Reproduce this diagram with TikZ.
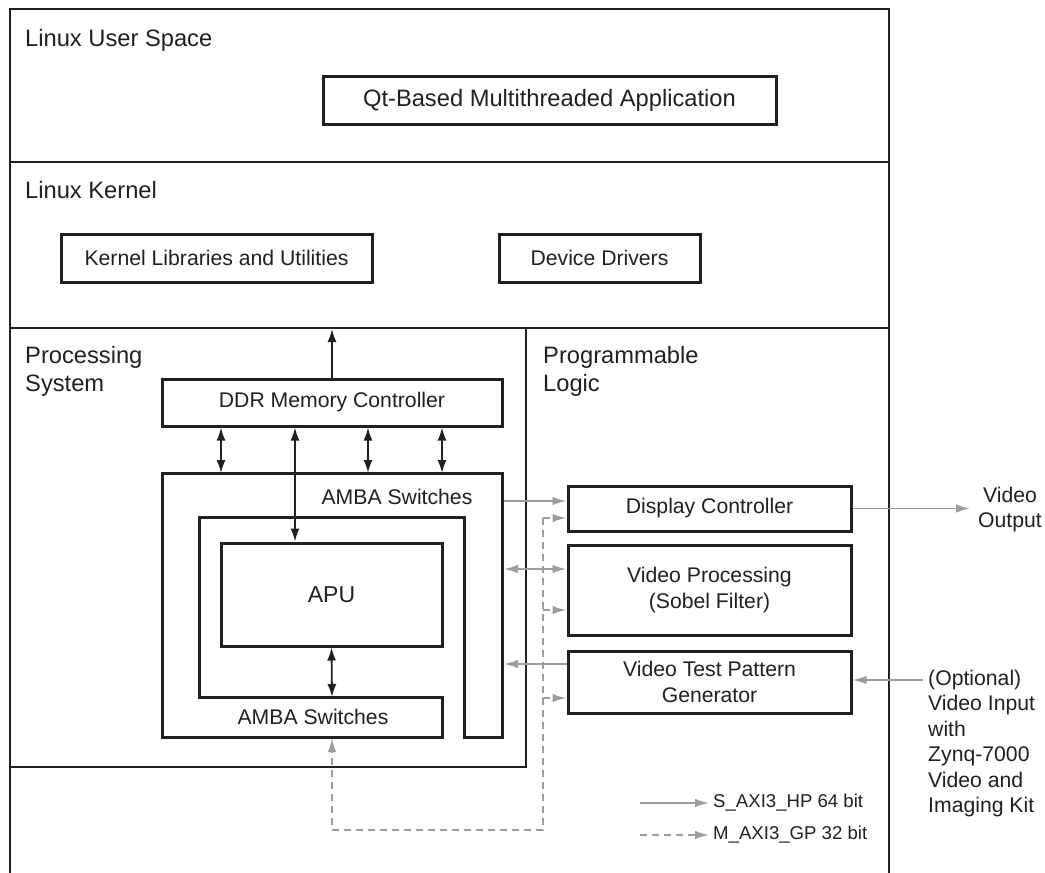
\documentclass[tikz,border=0pt]{standalone}
\usepackage{fontspec}
\setmainfont{Liberation Sans}
\usetikzlibrary{arrows.meta}
\definecolor{ink}{HTML}{231F20}
\definecolor{wire}{HTML}{9B9C9E}
\newcommand{\secfont}{\fontsize{23.7}{28}\selectfont}
\newcommand{\boxfont}{\fontsize{21.2}{25.4}\selectfont}
\newcommand{\keyfont}{\fontsize{18.6}{22}\selectfont}

\begin{document}
\begin{tikzpicture}[x=1pt, y=-1pt,
    rule/.style={draw=ink, line width=2.3pt},
    blk/.style={draw=ink, line width=3pt, text=ink, font=\boxfont, inner sep=0pt, align=center},
    lbl/.style={text=ink, font=\secfont, inner sep=0pt, align=left},
    txt/.style={text=ink, font=\boxfont, inner sep=0pt},
    link/.style={ink, line width=1.8pt, -{Latex[length=13pt,width=9pt]}},
    dlink/.style={ink, line width=1.8pt, {Latex[length=13pt,width=9pt]}-{Latex[length=13pt,width=9pt]}},
    hp/.style={wire, line width=1.8pt, -{Latex[length=14pt,width=8.5pt]}},
    hpd/.style={wire, line width=1.8pt, {Latex[length=14pt,width=8.5pt]}-{Latex[length=14pt,width=8.5pt]}},
    gp/.style={hp, dash pattern=on 7pt off 5pt}]
    \useasboundingbox (0,0) rectangle (1045,873);

    % 绘制外框和分区线
    \draw[rule] (10,873) -- (10,9) -- (889,9) -- (889,873);
    \draw[rule] (10,162) -- (889,162);
    \draw[rule] (10,328) -- (889,328);
    \draw[rule] (526,328) -- (526,767) -- (10,767);

    % 分区标题
    \node[lbl, anchor=base west] (usr) at (25,46) {Linux User Space};
    \node[lbl, anchor=base west] (krn) at (25,198) {Linux Kernel};
    \node[lbl, anchor=north west] (ps) at (25,346) {Processing\\System};
    \node[lbl, anchor=north west] (pl) at (543,346) {Programmable\\Logic};

    % 软件层的方框
    \node[blk, font=\secfont, minimum width=453pt, minimum height=48pt] (qt) at (549.5,100) {Qt-Based Multithreaded Application};
    \node[blk, minimum width=311pt, minimum height=48pt] (klib) at (216.5,258) {Kernel Libraries and Utilities};
    \node[blk, minimum width=201pt, minimum height=48pt] (drv) at (599.5,258) {Device Drivers};

    % 处理系统
    \node[blk, minimum width=340pt, minimum height=47pt] (ddr) at (332,402.5) {DDR Memory Controller};
    \draw[rule, line width=3pt] (162,473) -- (502,473) -- (502,737) -- (464,737) -- (464,517)
        -- (199,517) -- (199,697) -- (442,697) -- (442,737) -- (162,737) -- cycle;
    \node[txt] (swtop) at (397,497) {AMBA Switches};
    \node[txt] (swbot) at (313,717) {AMBA Switches};
    \node[blk, font=\fontsize{23}{27}\selectfont, minimum width=221pt, minimum height=103pt] (apu) at (331.5,594.5) {APU};

    % 可编程逻辑
    \node[blk, minimum width=283pt, minimum height=45pt] (dc) at (709.5,508.5) {Display Controller};
    \node[blk, minimum width=283pt, minimum height=90pt] (vp) at (709.5,590) {Video Processing\\(Sobel Filter)};
    \node[blk, minimum width=283pt, minimum height=62pt] (vtpg) at (709.5,682) {Video Test Pattern\\Generator};

    % 黑色连线
    \coordinate (kbase) at (332,329);
    \coordinate (ambaT) at (332,473);
    \coordinate (ambaI) at (332,697);
    \draw[link] (ddr.north) -- (kbase);
    \foreach \x in {221,368,442}
        \draw[dlink] (ddr.south -| \x,0) -- (ambaT -| \x,0);
    \draw[dlink] (ddr.south -| 295,0) -- (apu.north -| 295,0);
    \draw[dlink] (apu.south) -- (ambaI);

    % 灰色总线
    \coordinate (ambaR) at (504,605);
    \coordinate (ambaB) at (332,738);
    \coordinate (gpbus) at (543,830);
    \coordinate (dcA) at ([yshift=7.5pt]dc.west);
    \coordinate (dcB) at ([yshift=-9.5pt]dc.west);
    \coordinate (vpA) at ([yshift=21pt]vp.west);
    \coordinate (vpB) at ([yshift=-20pt]vp.west);
    \coordinate (vtA) at ([yshift=18pt]vtpg.west);
    \coordinate (vtB) at ([yshift=-16pt]vtpg.west);
    \draw[hp] (dcA -| ambaR) -- (dcA);
    \draw[hpd] (vpA -| ambaR) -- (vpA);
    \draw[hp] (vtA) -- (vtA -| ambaR);
    \draw[gp] (dcB -| gpbus) -- (gpbus) -| (ambaB);
    \foreach \p in {dcB,vpB,vtB}
        \draw[gp] (\p -| gpbus) -- (\p);

    % 视频输入输出
    \node[txt, align=center, inner sep=8pt] (vout) at (1010,509.5) {Video\\Output};
    \draw[hp] (dc.east) -- (dc.east -| vout.west);
    \node[txt, align=left, anchor=north west] (vin) at (928,670) {(Optional)\\Video Input\\with\\Zynq-7000\\Video and\\Imaging Kit};
    \coordinate (vinA) at (923,680);
    \draw[hp] (vinA) -- (vinA -| vtpg.east);

    % 图例
    \coordinate (hpA) at (640,803);
    \coordinate (gpA) at (640,835);
    \node[txt, font=\keyfont, anchor=west, inner sep=4pt] (hpkey) at (709,803) {S\_AXI3\_HP 64 bit};
    \node[txt, font=\keyfont, anchor=west, inner sep=4pt] (gpkey) at (709,835) {M\_AXI3\_GP 32 bit};
    \draw[hp] (hpA) -- (hpkey.west);
    \draw[gp] (gpA) -- (gpkey.west);
\end{tikzpicture}
\end{document}
